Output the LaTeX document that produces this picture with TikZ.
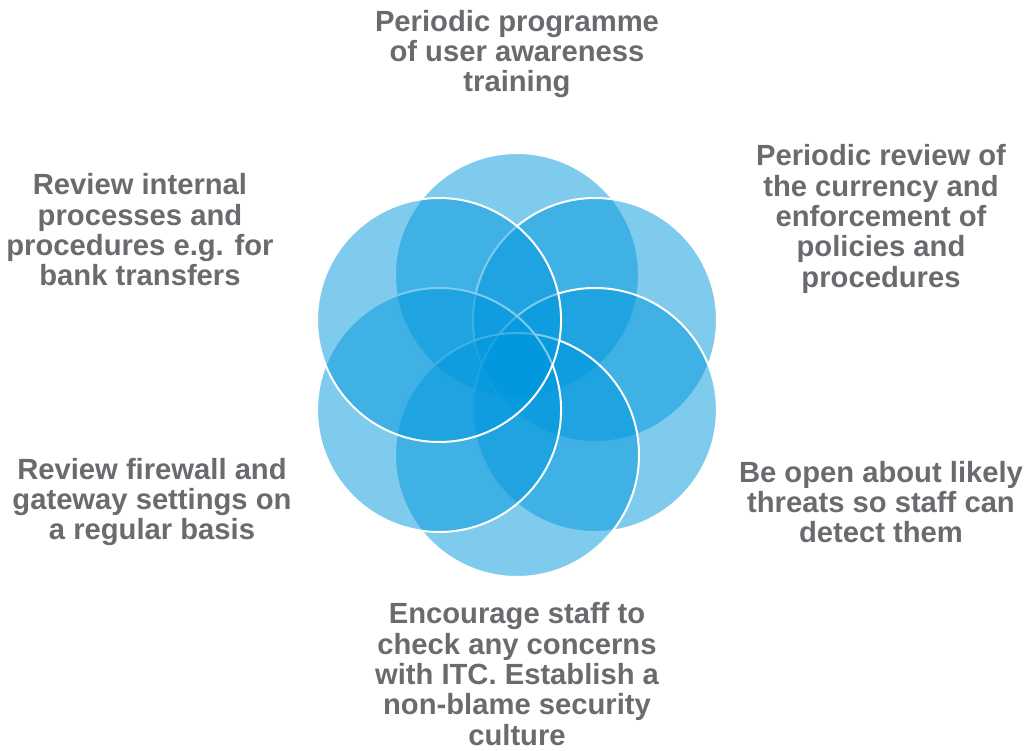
\documentclass[tikz,border=0pt]{standalone}
\usepackage{fontspec}
\setmainfont{Liberation Sans}
\usetikzlibrary{calc}
\begin{document}
\begin{tikzpicture}[x=1pt,y=-1pt,
  petal/.style={fill=petalblue,fill opacity=0.5,draw=white,draw opacity=1,line width=2pt},
  label/.style={text=labelgray,font=\fontsize{29.2}{30.3}\selectfont\bfseries,align=center,inner sep=0pt}]
\definecolor{petalblue}{HTML}{0097DD}
\definecolor{labelgray}{HTML}{6A6B6F}
\useasboundingbox (0,0) rectangle (1031,751);
\coordinate (c) at (517,365);
% six overlapping petals, drawn clockwise from the top
\foreach \ang in {90,30,-30,-90,-150,150}{
  \path[petal] ($(c)+(\ang:90pt)$) circle[radius=122pt];
}
\node[label] (t1) at (517,54) {Periodic programme\\of user awareness\\training};
\node[label] (t2) at (881,219) {Periodic review of\\the currency and\\enforcement of\\policies and\\procedures};
\node[label] (t3) at (881,502) {Be open about likely\\threats so staff can\\detect them};
\node[label] (t4) at (517,674) {Encourage staff to\\check any concerns\\with ITC. Establish a\\non-blame security\\culture};
\node[label] (t5) at (152,502) {Review firewall and\\gateway settings on\\a regular basis};
\node[label] (t6) at (140,230) {Review internal\\processes and\\procedures e.g. for\\bank transfers};
\end{tikzpicture}
\end{document}
